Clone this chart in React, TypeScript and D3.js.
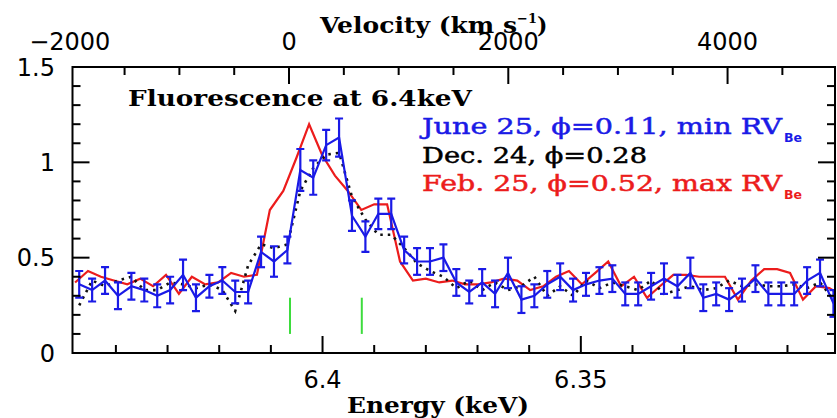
import React from "react";
import * as d3 from "d3";

const W = 837;
const H = 418;
const FRAME = { left: 72.5, right: 835, top: 67, bottom: 353 };

// Spectral bin centres (keV) for the June 25 and Dec. 24 spectra
const binEnergy = [
  6.4471, 6.4446, 6.4421, 6.4396, 6.437, 6.4345, 6.432, 6.4295, 6.427, 6.4245,
  6.4219, 6.4194, 6.4169, 6.4144, 6.4119, 6.4094, 6.4068, 6.4043, 6.4018, 6.3993,
  6.3968, 6.3943, 6.3917, 6.3892, 6.3867, 6.3842, 6.3817, 6.3792, 6.3766, 6.3741,
  6.3716, 6.3691, 6.3666, 6.3641, 6.3615, 6.359, 6.3565, 6.354, 6.3515, 6.349,
  6.3464, 6.3439, 6.3414, 6.3389, 6.3364, 6.3339, 6.3313, 6.3288, 6.3263, 6.3238,
  6.3213, 6.3188, 6.3162, 6.3137, 6.3112, 6.3087, 6.3062, 6.3037, 6.3011,
];

// June 25 (phi = 0.11): normalised flux and 1-sigma errors
const juneFlux = [
  0.36, 0.33, 0.38, 0.3, 0.35, 0.33, 0.3, 0.33, 0.41, 0.29,
  0.35, 0.38, 0.32, 0.32, 0.53, 0.48, 0.54, 0.96, 0.92, 1.09,
  1.13, 0.72, 0.61, 0.73, 0.73, 0.54, 0.48, 0.48, 0.5, 0.37,
  0.32, 0.37, 0.31, 0.42, 0.28, 0.3, 0.36, 0.4, 0.33, 0.36,
  0.38, 0.39, 0.31, 0.31, 0.35, 0.39, 0.35, 0.42, 0.29, 0.31,
  0.28, 0.33, 0.39, 0.31, 0.31, 0.31, 0.38, 0.42, 0.26,
];
const juneErr = [
  0.07, 0.06, 0.07, 0.07, 0.07, 0.06, 0.06, 0.07, 0.08, 0.07,
  0.06, 0.07, 0.06, 0.06, 0.08, 0.08, 0.07, 0.11, 0.09, 0.08,
  0.1, 0.08, 0.08, 0.08, 0.08, 0.07, 0.07, 0.07, 0.07, 0.07,
  0.06, 0.07, 0.07, 0.08, 0.07, 0.06, 0.07, 0.07, 0.06, 0.06,
  0.07, 0.07, 0.06, 0.06, 0.07, 0.08, 0.06, 0.08, 0.07, 0.06,
  0.06, 0.06, 0.07, 0.06, 0.06, 0.06, 0.07, 0.07, 0.07,
];

// Dec. 24 (phi = 0.28)
const decFlux = [
  0.25, 0.38, 0.35, 0.38, 0.4, 0.33, 0.33, 0.37, 0.36, 0.34,
  0.36, 0.33, 0.22, 0.46, 0.57, 0.55, 0.57, 0.85, 0.97, 1.04,
  1.05, 0.82, 0.7, 0.62, 0.62, 0.55, 0.47, 0.43, 0.4, 0.34,
  0.38, 0.33, 0.37, 0.33, 0.35, 0.4, 0.3, 0.35, 0.3, 0.38,
  0.34, 0.37, 0.35, 0.33, 0.38, 0.31, 0.33, 0.35, 0.33, 0.34,
  0.38, 0.35, 0.36, 0.35, 0.35, 0.36, 0.34, 0.37, 0.28,
];

// Feb. 25 (phi = 0.52) on its own bin grid
const febEnergy = [
  6.4479, 6.4454, 6.4429, 6.4404, 6.4378, 6.4353, 6.4328, 6.4303, 6.4278, 6.4253,
  6.4227, 6.4202, 6.4177, 6.4152, 6.4127, 6.4102, 6.4076, 6.4051, 6.4026, 6.4001,
  6.3976, 6.3951, 6.3925, 6.39, 6.3875, 6.385, 6.3825, 6.38, 6.3774, 6.3749,
  6.3724, 6.3699, 6.3674, 6.3649, 6.3623, 6.3598, 6.3573, 6.3548, 6.3523, 6.3498,
  6.3472, 6.3447, 6.3422, 6.3397, 6.3372, 6.3347, 6.3321, 6.3296, 6.3271, 6.3246,
  6.3221, 6.3196, 6.317, 6.3145, 6.312, 6.3095, 6.307, 6.3045, 6.3019, 6.2994,
];
const febFlux = [
  0.37, 0.43, 0.4, 0.38, 0.36, 0.39, 0.35, 0.41, 0.31, 0.4,
  0.36, 0.37, 0.42, 0.4, 0.41, 0.75, 0.85, 1.02, 1.2, 1.04,
  0.93, 0.85, 0.75, 0.78, 0.78, 0.48, 0.38, 0.39, 0.37, 0.38,
  0.36, 0.36, 0.37, 0.39, 0.38, 0.33, 0.35, 0.4, 0.43, 0.36,
  0.42, 0.48, 0.35, 0.4, 0.29, 0.35, 0.41, 0.41, 0.4, 0.4,
  0.4, 0.28, 0.38, 0.44, 0.44, 0.42, 0.28, 0.35, 0.34, 0.3,
];

// Marker energies (keV) and their vertical extent
const markerEnergy = [6.4063, 6.3924];
const markerSpan = [0.1, 0.29];

// Axis ticks and labels
const energyMajor = [6.4, 6.35];
const energyLabels = ["6.4", "6.35"];
const velocityMajor = [-2000, 0, 2000, 4000];
const velocityLabels = ["\u22122000", "0", "2000", "4000"];
const fluxMajor = [0, 0.5, 1, 1.5];
const fluxLabels = ["0", "0.5", "1", "1.5"];

const BLUE = "#1a1ae6";
const RED = "#ec1c1c";
const GREEN = "#3ddc3d";
const SANS = "'DejaVu Sans', sans-serif";
const SERIF = "'DejaVu Serif', serif";

export default function App() {
  const x = d3.scaleLinear().domain([6.4484, 6.3008]).range([FRAME.left, FRAME.right]);
  const v = d3.scaleLinear().domain([-1975, 4980]).range([FRAME.left, FRAME.right]);
  const y = d3.scaleLinear().domain([0, 1.5]).range([FRAME.bottom, FRAME.top]);

  const MAJ = 17;
  const MIN = 8;

  const energyMinor = x.ticks(15);
  const isEnergyMajor = (e: number) => Math.abs(e * 20 - Math.round(e * 20)) < 1e-6;
  const velocityMinor = v.ticks(14);
  const fluxMinor = d3.range(0, 16).map((i) => i / 10);
  const isFluxMajor = (f: number) => Math.abs(f * 2 - Math.round(f * 2)) < 1e-6;

  const line = d3
    .line<[number, number]>()
    .x((d) => x(d[0]))
    .y((d) => y(d[1]));

  const junePts: [number, number][] = binEnergy.map((e, i) => [e, juneFlux[i]]);
  const decPts: [number, number][] = binEnergy.map((e, i) => [e, decFlux[i]]);
  const febPts: [number, number][] = febEnergy.map((e, i) => [e, febFlux[i]]);

  const cap = 4;

  return (
    <svg width={W} height={H} style={{ display: "block", position: "absolute", left: 0, top: 0, background: "#fff" }}>
      <defs>
        <clipPath id="plotArea">
          <rect x={FRAME.left} y={FRAME.top} width={FRAME.right - FRAME.left} height={FRAME.bottom - FRAME.top} />
        </clipPath>
      </defs>
      <rect width={W} height={H} fill="#fff" />

      {/* data */}
      <g clipPath="url(#plotArea)">
        <path d={line(febPts) || ""} fill="none" stroke={RED} strokeWidth={2.2} strokeLinejoin="miter" />
        <path d={line(decPts) || ""} fill="none" stroke="#111" strokeWidth={2.6} strokeDasharray="2.5 5" />
        <path d={line(junePts) || ""} fill="none" stroke={BLUE} strokeWidth={2.2} />
        {binEnergy.map((e, i) => {
          const cx = x(e);
          const y0 = y(juneFlux[i] - juneErr[i]);
          const y1 = y(juneFlux[i] + juneErr[i]);
          return (
            <g key={i} stroke={BLUE} strokeWidth={2.2}>
              <line x1={cx} x2={cx} y1={y0} y2={y1} />
              <line x1={cx - cap} x2={cx + cap} y1={y0} y2={y0} />
              <line x1={cx - cap} x2={cx + cap} y1={y1} y2={y1} />
            </g>
          );
        })}
        {markerEnergy.map((e, i) => (
          <line key={i} x1={x(e)} x2={x(e)} y1={y(markerSpan[0])} y2={y(markerSpan[1])} stroke={GREEN} strokeWidth={2} />
        ))}
      </g>

      {/* frame */}
      <rect
        x={FRAME.left}
        y={FRAME.top}
        width={FRAME.right - FRAME.left}
        height={FRAME.bottom - FRAME.top}
        fill="none"
        stroke="#000"
        strokeWidth={2}
      />

      {/* bottom energy ticks */}
      {energyMinor.map((e, i) => {
        const len = isEnergyMajor(e) ? MAJ : MIN;
        return <line key={i} x1={x(e)} x2={x(e)} y1={FRAME.bottom} y2={FRAME.bottom - len} stroke="#000" strokeWidth={2} />;
      })}
      {energyMajor.map((e, i) => (
        <text key={i} x={x(e)} y={388} textAnchor="middle" fontFamily={SANS} fontSize={24} fill="#000">
          {energyLabels[i]}
        </text>
      ))}

      {/* top velocity ticks */}
      {velocityMinor.map((d, i) => {
        const len = d % 2000 === 0 ? MAJ : MIN;
        return <line key={i} x1={v(d)} x2={v(d)} y1={FRAME.top} y2={FRAME.top + len} stroke="#000" strokeWidth={2} />;
      })}
      {velocityMajor.map((d, i) => (
        <text key={i} x={v(d)} y={50} textAnchor="middle" fontFamily={SANS} fontSize={24} fill="#000">
          {velocityLabels[i]}
        </text>
      ))}

      {/* left and right flux ticks */}
      {fluxMinor.map((f, i) => {
        const len = isFluxMajor(f) ? MAJ : MIN;
        return (
          <g key={i} stroke="#000" strokeWidth={2}>
            <line x1={FRAME.left} x2={FRAME.left + len} y1={y(f)} y2={y(f)} />
            <line x1={FRAME.right} x2={FRAME.right - len} y1={y(f)} y2={y(f)} />
          </g>
        );
      })}
      {fluxMajor.map((f, i) => (
        <text key={i} x={55} y={y(f) + 8.5} textAnchor="end" fontFamily={SANS} fontSize={24} fill="#000">
          {fluxLabels[i]}
        </text>
      ))}

      {/* axis titles */}
      <text x={320} y={33} fontFamily={SERIF} fontWeight="bold" fontSize={22} fill="#000">
        <tspan textLength={197} lengthAdjust="spacingAndGlyphs">Velocity (km s</tspan>
        <tspan fontSize={13} dy={-10}>−1</tspan>
        <tspan dy={10}>)</tspan>
      </text>
      <text x={347} y={413} fontFamily={SERIF} fontWeight="bold" fontSize={22} fill="#000" textLength={182} lengthAdjust="spacingAndGlyphs">
        Energy (keV)
      </text>

      {/* annotations */}
      <text x={128} y={106} fontFamily={SERIF} fontWeight="bold" fontSize={22} fill="#000" textLength={344} lengthAdjust="spacingAndGlyphs">
        Fluorescence at 6.4keV
      </text>
      <g strokeWidth={0.5}>
        <text x={422} y={134} fontFamily={SERIF} fontSize={23} fill={BLUE} stroke={BLUE} textLength={360} lengthAdjust="spacingAndGlyphs">
          June 25, ϕ=0.11, min RV
        </text>
        <text x={784} y={142} fontFamily={SANS} fontWeight="bold" fontSize={13} fill={BLUE} textLength={18} lengthAdjust="spacingAndGlyphs">
          Be
        </text>
        <text x={422} y={163} fontFamily={SERIF} fontSize={23} fill="#000" stroke="#000" textLength={225} lengthAdjust="spacingAndGlyphs">
          Dec. 24, ϕ=0.28
        </text>
        <text x={422} y={191} fontFamily={SERIF} fontSize={23} fill={RED} stroke={RED} textLength={360} lengthAdjust="spacingAndGlyphs">
          Feb. 25, ϕ=0.52, max RV
        </text>
        <text x={784} y={199} fontFamily={SANS} fontWeight="bold" fontSize={13} fill={RED} textLength={18} lengthAdjust="spacingAndGlyphs">
          Be
        </text>
      </g>
    </svg>
  );
}
